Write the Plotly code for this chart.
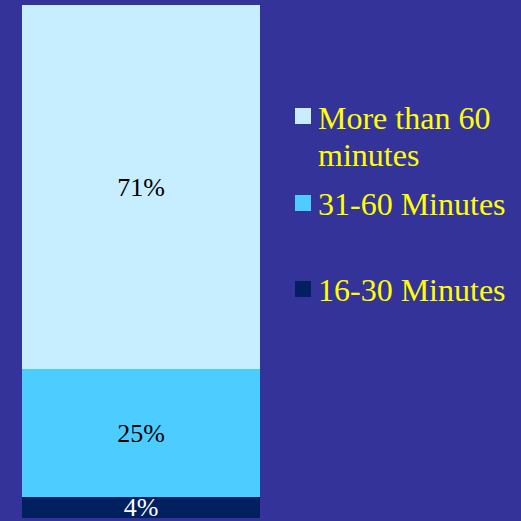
import plotly.graph_objects as go

categories = ["16-30 Minutes", "31-60 Minutes", "More than 60<br>minutes"]
values = [4, 25, 71]
colors = ["#00205F", "#4DCCFF", "#C6EEFF"]
text_colors = ["#FFFFFF", "#000000", "#000000"]

W = H = 521
BG = "#333399"
FONT = "Liberation Serif, Times New Roman, serif"

fig = go.Figure()
for cat, v, c, tc in zip(categories, values, colors, text_colors):
    fig.add_trace(go.Bar(
        x=[0], y=[v], name=cat, width=1,
        marker=dict(color=c, line=dict(width=0)),
        text=[f"{v}%"], textposition="inside", insidetextanchor="middle",
        textangle=0, constraintext="none",
        insidetextfont=dict(family=FONT, size=26, color=tc),
        showlegend=False, hoverinfo="skip",
    ))

# bar spans pixels 22..260 horizontally, 5..518 vertically
px_per_x = 238.0
x0 = -0.5 - 22 / px_per_x
x1 = 0.5 + (W - 260) / px_per_x
px_per_y = 513 / 100.0
y0 = -(H - 518) / px_per_y
y1 = 100 + 5 / px_per_y

# custom legend (top trace first)
legend_square_centers = [116, 203, 289]
legend_text_centers = [118, 204, 290]
line_gap = 37
shapes = []
annotations = []
for i, idx in enumerate([2, 1, 0]):
    cy = legend_square_centers[i]
    shapes.append(dict(type="rect", xref="paper", yref="paper",
                       x0=295 / W, x1=311 / W,
                       y0=1 - (cy + 8) / H, y1=1 - (cy - 8) / H,
                       fillcolor=colors[idx], line=dict(width=0)))
    for j, line in enumerate(categories[idx].split("<br>")):
        annotations.append(dict(xref="paper", yref="paper", x=316 / W,
                                y=1 - (legend_text_centers[i] + j * line_gap) / H,
                                xanchor="left", yanchor="middle", align="left",
                                text=line, showarrow=False,
                                font=dict(family=FONT, size=32, color="#FFFF00")))

fig.update_layout(
    width=W, height=H, barmode="stack",
    paper_bgcolor=BG, plot_bgcolor=BG,
    margin=dict(l=0, r=0, t=0, b=0),
    xaxis=dict(range=[x0, x1], visible=False, fixedrange=True),
    yaxis=dict(range=[y0, y1], visible=False, fixedrange=True),
    shapes=shapes, annotations=annotations,
    showlegend=False, bargap=0,
)
fig.write_html("out.html")
